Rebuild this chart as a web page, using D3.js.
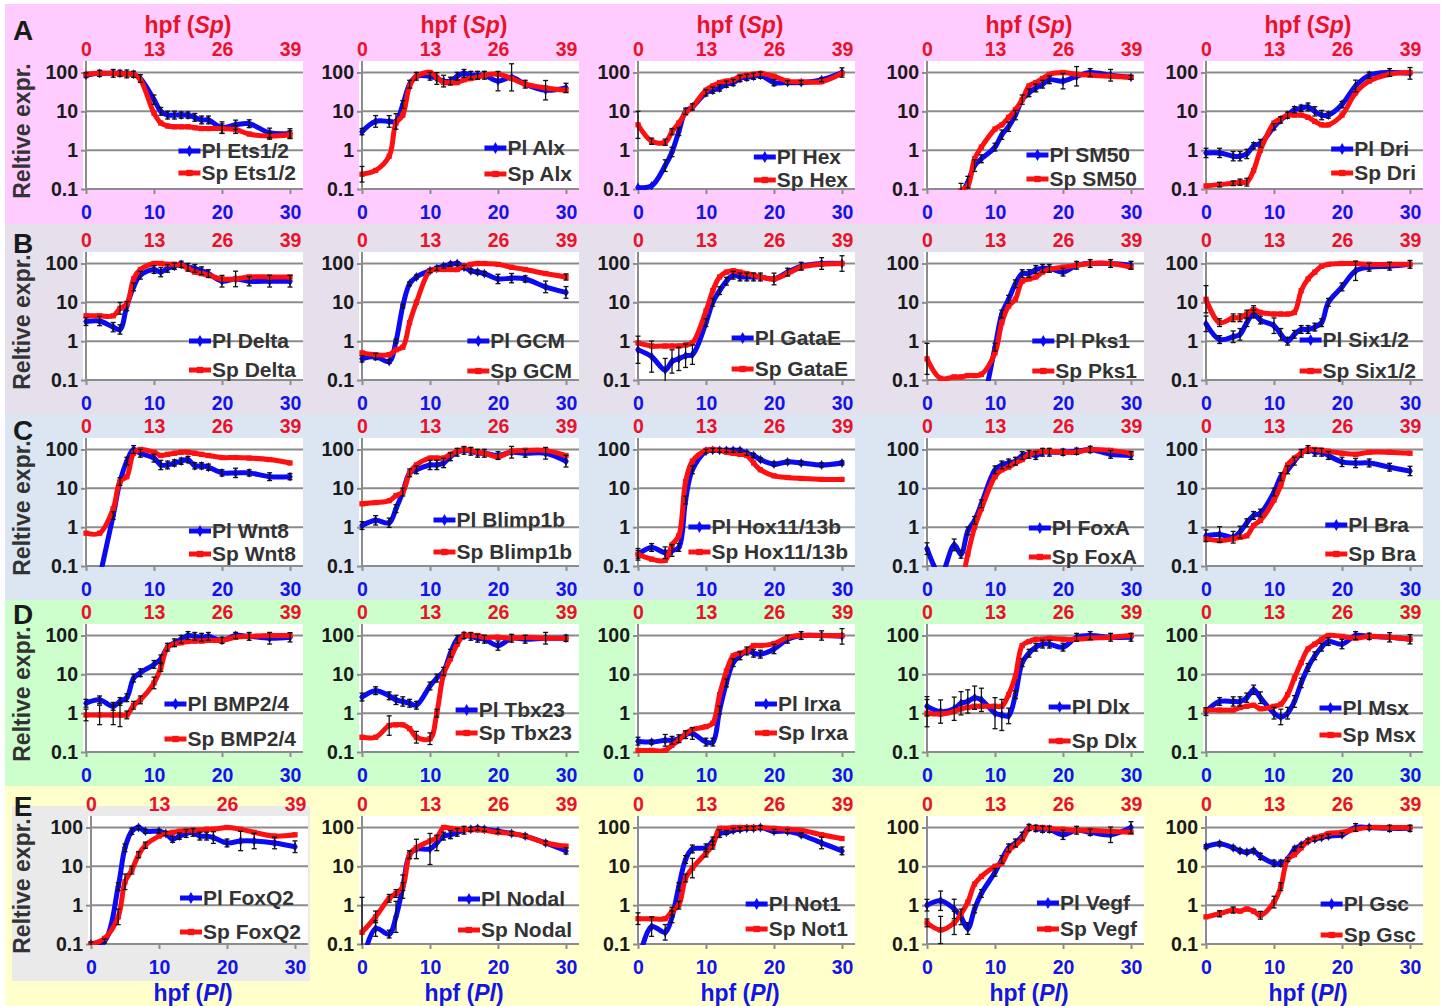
<!DOCTYPE html>
<html>
<head>
<meta charset="utf-8">
<script src="https://cdn.jsdelivr.net/npm/d3@7"></script>
<style>
  body { margin: 0; background: #fff; }
  text { font-family: "Liberation Sans", Arial, sans-serif; font-weight: bold; }
</style>
</head>
<body>
<div id="chart"></div>
<script>
// Sampling times (hpf, Pl) and axis ticks
var times = [0, 2, 4, 5, 6, 7, 8, 10, 11, 12, 13, 14, 15, 16, 17, 18, 20, 22, 24, 27, 30];
var plTicks = [0, 10, 20, 30];
var spTicks = [0, 13, 26, 39];
var yTicks = [0.1, 1, 10, 100];
var rowLetters = ["A", "B", "C", "D", "E"];

var genes = ["Ets1/2", "Alx", "Hex", "SM50", "Dri",
  "Delta", "GCM", "GataE", "Pks1", "Six1/2",
  "Wnt8", "Blimp1b", "Hox11/13b", "FoxA", "Bra",
  "BMP2/4", "Tbx23", "Irxa", "Dlx", "Msx",
  "FoxQ2", "Nodal", "Not1", "Vegf", "Gsc"];

// Relative expression, Pl (blue)
var plValues = [
  [85, 95, 95, 95, 92, 90, 70, 20, 10, 8, 8, 8, 8, 7, 6, 6, 3.8, 4.5, 4.8, 2.8, 2.7],
  [3, 5.5, 5.5, 5.5, 15, 50, 80, 80, 70, 60, 60, 80, 95, 85, 85, 85, 60, 75, 50, 35, 40],
  [0.11, 0.12, 0.4, 0.9, 3, 10, 13, 30, 35, 40, 50, 55, 70, 75, 80, 85, 55, 55, 55, 65, 100],
  [0.01, 0.01, 0.03, 0.07, 0.15, 0.4, 0.6, 1.2, 2.5, 4, 8, 20, 30, 40, 50, 65, 60, 80, 100, 85, 75],
  [0.85, 0.85, 0.7, 0.7, 0.8, 1.3, 1.5, 4, 6, 8, 11, 12, 13, 10, 8, 8, 15, 45, 85, 100, 95],
  [3.2, 3.3, 2.3, 2, 8, 25, 50, 70, 60, 75, 85, 95, 80, 75, 65, 55, 35, 40, 35, 35, 35],
  [0.35, 0.4, 0.3, 1, 8, 30, 45, 65, 75, 85, 95, 100, 80, 65, 60, 55, 40, 42, 40, 25, 18],
  [0.6, 0.4, 0.18, 0.3, 0.35, 0.42, 0.45, 3, 10, 20, 35, 50, 45, 45, 45, 45, 40, 60, 85, 100, 100],
  [0.01, 0.01, 0.01, 0.01, 0.01, 0.01, 0.02, 0.7, 5, 12, 30, 55, 55, 70, 75, 75, 60, 90, 100, 100, 90],
  [2.8, 1.1, 1.3, 1.5, 3, 5, 3.5, 2.5, 1.5, 1, 1.5, 2, 2, 2.3, 3, 10, 25, 65, 80, 85, 95],
  [0.001, 0.05, 2, 15, 50, 100, 80, 60, 40, 40, 45, 50, 55, 38, 38, 35, 25, 25, 25, 20, 20],
  [1.1, 1.5, 1.3, 3, 8, 25, 30, 40, 40, 45, 65, 85, 95, 90, 80, 80, 70, 85, 80, 80, 50],
  [0.2, 0.3, 0.22, 0.25, 0.3, 5, 30, 90, 95, 95, 95, 95, 95, 80, 70, 55, 42, 48, 45, 40, 45],
  [0.28, 0.06, 0.35, 0.2, 0.8, 1.5, 4, 30, 40, 45, 50, 70, 75, 70, 85, 85, 85, 90, 100, 75, 70],
  [0.6, 0.65, 0.55, 0.75, 1.3, 2, 2.3, 8, 20, 30, 50, 80, 100, 85, 85, 70, 48, 45, 45, 35, 28],
  [1.8, 2.2, 1.5, 2, 2.5, 8, 11, 18, 25, 50, 65, 80, 100, 95, 90, 95, 75, 100, 95, 85, 90],
  [2.6, 3.8, 2.8, 2.2, 2, 1.8, 1.6, 5, 8, 12, 35, 80, 100, 95, 85, 80, 55, 85, 80, 85, 85],
  [0.19, 0.18, 0.2, 0.2, 0.22, 0.28, 0.3, 0.18, 0.18, 1.2, 6, 20, 30, 40, 35, 33, 45, 80, 100, 100, 95],
  [1.5, 1.1, 1.3, 1.8, 2, 2.5, 2.2, 1, 0.9, 0.85, 3, 20, 35, 50, 60, 60, 50, 90, 100, 90, 90],
  [1.1, 2, 2, 2, 2.5, 4, 2.5, 1, 0.8, 1, 2, 6, 15, 30, 50, 70, 60, 100, 95, 90, 80],
  [0.1, 0.12, 3, 30, 80, 100, 80, 80, 70, 50, 60, 70, 75, 60, 60, 55, 40, 45, 45, 40, 32],
  [0.03, 0.25, 0.18, 0.5, 3, 20, 28, 28, 40, 60, 65, 75, 85, 90, 95, 90, 80, 70, 60, 40, 25],
  [0.03, 0.28, 0.2, 0.5, 3, 15, 28, 30, 45, 70, 75, 85, 90, 95, 95, 100, 80, 80, 65, 40, 25],
  [1, 1.3, 0.8, 0.5, 0.25, 0.8, 2, 7, 15, 30, 40, 60, 100, 95, 90, 90, 65, 85, 75, 65, 100],
  [32, 38, 30, 25, 23, 25, 18, 12, 12, 15, 28, 35, 45, 50, 55, 60, 65, 100, 100, 95, 95]
];

// Relative expression, Sp (red), placed on the Pl time axis
var spValues = [
  [90, 95, 95, 92, 92, 90, 65, 9, 5, 4.2, 4, 4, 4, 3.8, 3.6, 3.6, 3.6, 3.4, 2.6, 2.3, 2.5],
  [0.24, 0.3, 0.7, 5, 8, 45, 80, 100, 75, 55, 55, 55, 65, 70, 75, 85, 90, 70, 50, 40, 35],
  [4.5, 1.7, 1.6, 3, 5, 9, 13, 35, 45, 55, 60, 65, 80, 85, 90, 95, 80, 60, 58, 58, 95],
  [0.01, 0.01, 0.03, 0.09, 0.12, 0.6, 1.2, 3.5, 4.5, 7, 11, 20, 45, 55, 70, 90, 100, 90, 85, 80, 75],
  [0.12, 0.13, 0.14, 0.15, 0.15, 0.3, 1, 5, 6.5, 8, 8, 8, 7, 5.5, 4.5, 4.5, 8, 30, 60, 90, 100],
  [4.5, 4.5, 4.5, 7, 9, 40, 70, 100, 100, 95, 95, 90, 75, 60, 55, 50, 40, 40, 45, 45, 45],
  [0.5, 0.45, 0.45, 0.6, 0.7, 3, 10, 65, 70, 70, 70, 70, 85, 95, 100, 100, 95, 80, 70, 55, 45],
  [0.9, 0.75, 0.75, 0.75, 0.75, 0.8, 0.9, 6, 20, 45, 60, 65, 60, 55, 50, 45, 40, 55, 80, 95, 100],
  [0.35, 0.11, 0.12, 0.12, 0.13, 0.13, 0.14, 0.5, 3, 8, 12, 35, 40, 45, 60, 70, 80, 90, 100, 100, 80],
  [12, 3, 4, 4, 5, 6.5, 5.5, 5, 5, 5, 5.5, 20, 40, 60, 85, 95, 100, 100, 95, 95, 95],
  [0.7, 0.7, 3, 15, 20, 80, 100, 85, 70, 75, 80, 85, 85, 80, 75, 70, 62, 62, 60, 55, 45],
  [4, 4.3, 4.8, 6.5, 8, 25, 40, 60, 60, 60, 75, 90, 100, 95, 85, 80, 65, 90, 95, 95, 70],
  [0.2, 0.15, 0.14, 0.35, 0.6, 15, 50, 95, 100, 95, 85, 80, 75, 70, 45, 30, 21, 19, 18, 17, 17],
  [0.01, 0.01, 0.01, 0.03, 0.2, 1, 3, 20, 30, 35, 45, 55, 75, 85, 90, 90, 85, 85, 100, 95, 80],
  [0.5, 0.45, 0.5, 0.55, 0.6, 1.1, 1.5, 5, 12, 40, 60, 80, 100, 100, 95, 90, 80, 75, 85, 85, 80],
  [0.9, 0.9, 0.9, 0.9, 0.9, 1.6, 2.2, 6, 15, 50, 60, 65, 70, 72, 72, 75, 75, 90, 95, 100, 100],
  [0.24, 0.24, 0.48, 0.5, 0.5, 0.4, 0.24, 0.22, 1, 10, 25, 60, 100, 100, 100, 90, 90, 85, 90, 85, 85],
  [0.11, 0.11, 0.11, 0.15, 0.2, 0.3, 0.38, 0.45, 0.55, 3, 12, 30, 35, 40, 55, 55, 62, 90, 100, 100, 100],
  [1, 0.95, 1.1, 1.3, 1.4, 1.5, 1.5, 1.5, 1.5, 3, 9, 55, 70, 80, 80, 85, 80, 80, 85, 90, 100],
  [1.2, 1.2, 1.2, 1.4, 1.5, 1.6, 1.3, 1.5, 1.7, 3, 8, 20, 45, 60, 80, 100, 95, 85, 95, 90, 80],
  [0.1, 0.14, 0.5, 4, 8, 20, 35, 60, 70, 75, 80, 85, 85, 85, 90, 90, 100, 90, 75, 60, 65],
  [0.2, 0.5, 1.5, 2, 3, 20, 30, 45, 55, 100, 95, 90, 90, 88, 88, 85, 75, 70, 60, 40, 33],
  [0.45, 0.45, 0.45, 0.7, 1, 5, 9, 22, 35, 95, 95, 100, 100, 100, 100, 100, 95, 90, 85, 65, 52],
  [0.35, 0.23, 0.35, 0.6, 1.2, 3.5, 5.5, 10, 12, 25, 35, 50, 95, 100, 100, 95, 90, 85, 85, 80, 75],
  [0.5, 0.6, 0.75, 0.7, 0.8, 0.7, 0.55, 1.2, 3, 15, 20, 30, 45, 55, 60, 70, 75, 90, 100, 100, 100]
];

// Error bar half widths, in decades (log10); 0 = no bar shown
var plErr = [
  [.06, .08, .1, .08, .1, .08, .1, .12, .1, .1, .1, .08, .08, .1, .1, .1, .15, .12, .1, .12, .12],
  [.08, .15, .15, .2, .1, .1, .1, .1, .15, .15, .1, .1, .1, .1, .1, .1, .25, .35, .1, .25, .12],
  [0, 0, .15, .12, .1, .08, .08, .08, .08, .08, .08, .08, .08, .08, .08, .08, .08, .05, .05, .05, .12],
  [0, 0, 0, .3, .15, .15, .1, .1, .12, .12, .12, .12, .1, .1, .1, .1, .2, .25, .1, .15, .05],
  [.12, .12, .12, .12, .12, .08, .1, .08, .08, .08, .08, .08, .1, .12, .12, .08, .08, .15, .08, .1, .15],
  [.1, .12, .12, .12, .12, .1, .1, .1, .12, .1, .08, .08, .1, .1, .1, .1, .15, .2, .12, .15, .15],
  [.08, .08, .05, .05, .05, .05, .05, .05, .05, .05, .05, .05, .05, .05, .05, .05, .12, .12, .08, .15, .15],
  [.35, .4, .3, .3, .3, .3, .25, .1, .1, .1, .1, .1, .1, .1, .1, .1, .15, .1, .1, .15, .2],
  [0, 0, 0, 0, 0, 0, 0, .1, .1, .1, .1, .1, .1, .1, .1, .1, .1, .1, .1, .1, .1],
  [.2, .1, .15, .15, .1, .1, .1, .2, .15, .1, .1, .1, .1, .1, .1, .1, .1, .25, .1, .1, .1],
  [0, 0, .1, .1, .1, .1, .1, .1, .12, .1, .08, .08, .08, .08, .08, .08, .08, .12, .08, .1, .08],
  [.1, .12, .12, .1, .1, .1, .1, .12, .12, .12, .1, .1, .1, .1, .1, .1, .1, .15, .1, .15, .15],
  [.15, .1, .15, .15, .1, .1, .1, .05, .05, .05, .05, .05, .05, .05, .05, .05, .05, .05, .05, .05, .05],
  [.15, .1, .15, .1, .1, .1, .1, .1, .1, .1, .1, .1, .1, .1, .1, .1, .08, .08, .08, .1, .1],
  [.15, .2, .15, .15, .1, .1, .1, .1, .1, .1, .1, .1, .1, .1, .1, .1, .12, .12, .1, .1, .12],
  [.1, .1, .1, .1, .1, .1, .1, .1, .1, .1, .1, .1, .1, .1, .1, .1, .08, .08, .1, .15, .12],
  [.1, .1, .1, .12, .12, .1, .1, .1, .1, .1, .1, .1, .08, .1, .1, .1, .12, .1, .1, .15, .08],
  [.1, .05, .15, .1, .1, .1, .15, .1, .1, .1, .1, .1, .1, .1, .1, .1, .12, .1, .1, .12, .2],
  [.25, .3, .3, .3, .3, .3, .3, .4, .4, .2, .1, .1, .1, .1, .1, .1, .1, .1, .1, .1, .1],
  [.1, .1, .12, .12, .12, .12, .15, .15, .2, .15, .15, .12, .1, .1, .1, .1, .12, .1, .08, .12, .12],
  [.05, .05, .1, .1, .08, .05, .05, .05, .05, .08, .08, .1, .1, .1, .1, .15, .1, .25, .2, .15, .15],
  [0, .2, .1, .4, .3, .1, .25, .4, .2, .1, .1, .1, .1, .05, .05, .05, .05, .05, .05, .05, .08],
  [0, .25, .2, .15, .1, .1, .1, .1, .1, .1, .05, .05, .05, .05, .05, .05, .05, .05, .05, .15, .1],
  [.15, .25, .25, .2, .15, .1, .1, .1, .1, .1, .1, .1, .08, .08, .08, .08, .12, .1, .08, .2, .15],
  [.05, .05, .05, .05, .05, .05, .08, .08, .08, .05, .05, .05, .05, .05, .05, .05, .05, .1, .05, .08, .08]
];

var spErr = [
  [0, 0, 0, 0, 0, 0, 0, 0, 0, 0, 0, 0, 0, 0, 0, 0, .12, .1, 0, .08, .1],
  [.2, 0, 0, 0, 0, 0, 0, 0, 0, 0, 0, 0, 0, 0, 0, 0, 0, 0, 0, 0, 0],
  [.35, .08, .08, .08, 0, 0, 0, 0, 0, 0, 0, 0, 0, 0, 0, 0, 0, 0, 0, 0, 0],
  [0, 0, 0, 0, 0, 0, 0, 0, 0, 0, 0, 0, 0, 0, 0, 0, 0, 0, 0, 0, 0],
  [0, .06, .06, .08, .1, 0, 0, 0, 0, 0, 0, 0, 0, 0, 0, 0, 0, 0, 0, 0, 0],
  [0, 0, 0, .15, 0, 0, 0, 0, 0, 0, 0, 0, 0, 0, 0, 0, 0, 0, 0, 0, 0],
  [0, 0, 0, 0, 0, 0, 0, 0, 0, 0, 0, 0, 0, 0, 0, 0, 0, 0, 0, 0, .08],
  [0, 0, 0, 0, 0, 0, 0, 0, 0, 0, 0, 0, 0, 0, 0, 0, 0, 0, 0, 0, 0],
  [.4, 0, 0, 0, 0, 0, 0, 0, 0, 0, 0, 0, 0, 0, 0, 0, 0, 0, 0, 0, 0],
  [.35, .1, .1, .1, .1, .1, 0, 0, 0, 0, 0, 0, 0, 0, 0, 0, 0, 0, 0, 0, 0],
  [0, 0, 0, 0, 0, 0, 0, 0, 0, 0, 0, 0, 0, 0, 0, 0, 0, 0, 0, 0, 0],
  [0, 0, 0, 0, 0, 0, 0, 0, 0, 0, 0, 0, 0, 0, 0, 0, 0, 0, 0, 0, 0],
  [.1, 0, 0, 0, 0, 0, 0, 0, 0, 0, 0, 0, 0, 0, 0, 0, 0, 0, 0, 0, 0],
  [0, 0, 0, 0, 0, 0, 0, 0, 0, 0, 0, 0, 0, 0, 0, 0, 0, 0, 0, 0, 0],
  [0, 0, 0, 0, 0, 0, 0, 0, 0, 0, 0, 0, 0, 0, 0, 0, 0, 0, 0, 0, 0],
  [.15, .25, .25, .3, .1, .1, .1, .15, .1, 0, 0, 0, 0, 0, 0, 0, 0, 0, 0, 0, 0],
  [0, 0, .25, 0, 0, 0, .15, .15, .1, 0, 0, 0, 0, 0, 0, 0, 0, 0, 0, 0, 0],
  [0, 0, 0, 0, 0, 0, 0, 0, 0, 0, 0, 0, 0, 0, 0, 0, 0, 0, 0, 0, 0],
  [.35, 0, 0, 0, 0, 0, 0, 0, 0, 0, 0, 0, 0, 0, 0, 0, 0, 0, 0, 0, 0],
  [0, 0, 0, 0, 0, 0, 0, 0, 0, 0, 0, 0, 0, 0, 0, 0, 0, 0, 0, 0, 0],
  [0, 0, .2, .2, .1, .08, .08, 0, 0, 0, 0, 0, 0, 0, 0, 0, 0, 0, 0, 0, 0],
  [.9, .15, .1, .1, .1, .1, 0, 0, 0, 0, 0, 0, 0, 0, 0, 0, 0, 0, 0, 0, 0],
  [.15, 0, 0, .1, .1, .1, .25, .1, .1, 0, 0, 0, 0, 0, 0, 0, 0, 0, 0, 0, 0],
  [.1, .35, .3, 0, 0, 0, 0, 0, 0, 0, 0, 0, 0, 0, 0, 0, 0, 0, 0, 0, 0],
  [0, .08, .08, 0, 0, 0, .1, .15, .1, 0, 0, 0, 0, 0, 0, 0, 0, 0, 0, 0, 0]
];

//Layout
var svgWidth = 1443;
var svgHeight = 1006;
var colX = [86, 362, 638, 927, 1206];
var rowBase = [189, 380, 566, 752, 944];
var rowTop = [4, 224, 414, 600, 786];
var rowBottom = [224, 414, 600, 786, 1006];
var rowColors = ["#FFCCFF", "#E6E0EC", "#DCE6F2", "#CCFFCC", "#FFFFCC"];
var letterY = [30, 243, 430, 614, 806];
var plotW = 204;
var plotH = 116.5;

// legend text offsets (Pl, Sp) from the 0.1 line
var legendDy = [
  [-38, -16], [-41, -15], [-32, -9], [-34, -10], [-40, -16],
  [-39, -10], [-39, -9], [-42, -11], [-39, -9], [-40, -9],
  [-35, -12], [-46, -14], [-39, -14], [-38, -9], [-41, -12],
  [-48, -13], [-42, -19], [-48, -19], [-45, -11], [-44, -17],
  [-46, -12], [-45, -14], [-40, -15], [-41, -15], [-40, -9]
];

var blue = "#0A0AF5";
var red = "#FF1010";
var blueText = "#1414E6";
var redText = "#E8132B";
var gridColor = "#8C8C8C";

var svg = d3.select("#chart")
  .append("svg")
  .attr("width", svgWidth)
  .attr("height", svgHeight);

// Row backgrounds
svg.selectAll("rect.rowbg")
  .data(rowColors)
  .enter()
  .append("rect")
  .attr("class", "rowbg")
  .attr("x", 5)
  .attr("y", (d, i) => rowTop[i])
  .attr("width", 1435)
  .attr("height", (d, i) => rowBottom[i] - rowTop[i])
  .attr("fill", d => d);

// grey block behind the first E panel
svg.append("rect")
  .attr("x", 12)
  .attr("y", 806)
  .attr("width", 298)
  .attr("height", 175)
  .attr("fill", "#EAEAEA");

// Row letters and y titles
rowLetters.forEach(function(letter, r) {
  svg.append("text")
    .attr("x", 23)
    .attr("y", letterY[r])
    .attr("dy", "0.35em")
    .attr("text-anchor", "middle")
    .attr("font-size", 28)
    .attr("fill", "#1a1a1a")
    .text(letter);

  svg.append("text")
    .attr("transform", `translate(22, ${rowBase[r] - 58}) rotate(-90)`)
    .attr("dy", "0.35em")
    .attr("text-anchor", "middle")
    .attr("font-size", 23)
    .attr("fill", "#333")
    .text("Reltive expr.");
});

var lineGen = d3.line()
  .curve(d3.curveCatmullRom.alpha(0.5));

genes.forEach(function(gene, i) {
  var r = Math.floor(i / 5);
  var c = i % 5;
  var x0 = colX[c] + (r === 4 && c === 0 ? 5 : 0);
  var yB = rowBase[r];

  var xScale = d3.scaleLinear().domain([0, 30]).range([x0, x0 + plotW]);
  var spScale = d3.scaleLinear().domain([0, 39]).range([x0, x0 + plotW]);
  var yScale = d3.scaleLog().domain([0.1, 100]).range([yB, yB - plotH]);

  var g = svg.append("g");

  // plot area
  g.append("rect")
    .attr("x", x0 - 3)
    .attr("y", yB - 128)
    .attr("width", plotW + 16)
    .attr("height", 129)
    .attr("fill", "#fff");

  // gridlines
  g.selectAll("line.grid")
    .data([1, 10, 100])
    .enter()
    .append("line")
    .attr("x1", x0)
    .attr("x2", x0 + plotW + 13)
    .attr("y1", d => yScale(d))
    .attr("y2", d => yScale(d))
    .attr("stroke", gridColor)
    .attr("stroke-width", 2);

  g.append("line")
    .attr("x1", x0).attr("x2", x0 + plotW + 13)
    .attr("y1", yB).attr("y2", yB)
    .attr("stroke", gridColor).attr("stroke-width", 2);
  g.append("line")
    .attr("x1", x0).attr("x2", x0)
    .attr("y1", yB - 128).attr("y2", yB)
    .attr("stroke", gridColor).attr("stroke-width", 2);

  // left axis
  var leftAxis = d3.axisLeft(yScale)
    .tickValues(yTicks)
    .tickFormat(d => d < 1 ? "0.1" : String(d))
    .tickSize(5)
    .tickPadding(3);
  var ly = g.append("g")
    .attr("transform", `translate(${x0}, 0)`)
    .call(leftAxis);
  ly.select(".domain").remove();
  ly.selectAll("line").attr("stroke", gridColor).attr("stroke-width", 2);
  ly.selectAll("text")
    .attr("font-size", 19.5)
    .attr("font-family", "Liberation Sans, Arial, sans-serif")
    .attr("fill", "#1a1a1a");

  // bottom axis (Pl hpf)
  var bottomAxis = d3.axisBottom(xScale).tickValues(plTicks).tickSize(5);
  var bx = g.append("g")
    .attr("transform", `translate(0, ${yB})`)
    .call(bottomAxis);
  bx.select(".domain").remove();
  bx.selectAll("line").attr("stroke", gridColor).attr("stroke-width", 2);
  bx.selectAll("text")
    .attr("y", 23)
    .attr("dy", "0.35em")
    .attr("font-size", 19.5)
    .attr("font-family", "Liberation Sans, Arial, sans-serif")
    .attr("fill", blueText);

  // top axis (Sp hpf)
  var topAxis = d3.axisTop(spScale).tickValues(spTicks).tickSize(0);
  var tx = g.append("g")
    .attr("transform", `translate(0, ${yB})`)
    .call(topAxis);
  tx.select(".domain").remove();
  tx.selectAll("text")
    .attr("y", -140)
    .attr("dy", "0.35em")
    .attr("font-size", 19.5)
    .attr("font-family", "Liberation Sans, Arial, sans-serif")
    .attr("fill", redText);

  // clip for the series
  var clipId = "clip" + i;
  svg.append("clipPath")
    .attr("id", clipId)
    .append("rect")
    .attr("x", x0 - 3)
    .attr("y", yB - 128)
    .attr("width", plotW + 16)
    .attr("height", 129);

  var series = [
    { vals: plValues[i], err: plErr[i], color: blue, shape: d3.symbolDiamond },
    { vals: spValues[i], err: spErr[i], color: red, shape: d3.symbolSquare }
  ];

  var plotG = g.append("g").attr("clip-path", `url(#${clipId})`);

  series.forEach(function(s) {
    var pts = s.vals.map((v, k) => [xScale(times[k]), yScale(v)]);
    plotG.append("path")
      .attr("d", lineGen(pts))
      .attr("fill", "none")
      .attr("stroke", s.color)
      .attr("stroke-width", 5)
      .attr("stroke-linejoin", "round");

    plotG.selectAll(null)
      .data(pts)
      .enter()
      .append("path")
      .attr("transform", d => `translate(${d[0]}, ${d[1]})`)
      .attr("d", d3.symbol().type(s.shape).size(28))
      .attr("fill", s.color);
  });

  // error bars
  series.forEach(function(s) {
    s.vals.forEach(function(v, k) {
      var e = s.err[k];
      if (!e) return;
      var xx = xScale(times[k]);
      var y1 = yScale(v * Math.pow(10, e));
      var y2 = yScale(v * Math.pow(10, -e));
      plotG.append("line")
        .attr("x1", xx).attr("x2", xx)
        .attr("y1", y1).attr("y2", y2)
        .attr("stroke", "#111").attr("stroke-width", 1.3);
      [y1, y2].forEach(function(yy) {
        plotG.append("line")
          .attr("x1", xx - 2.5).attr("x2", xx + 2.5)
          .attr("y1", yy).attr("y2", yy)
          .attr("stroke", "#111").attr("stroke-width", 1.3);
      });
    });
  });

  // legend
  var labels = ["Pl " + gene, "Sp " + gene];
  var legG = g.append("g");
  var texts = labels.map(function(lab, k) {
    return legG.append("text")
      .attr("y", yB + legendDy[i][k])
      .attr("dy", "0.35em")
      .attr("font-size", 21)
      .attr("fill", "#333")
      .text(lab);
  });
  var maxLen = d3.max(texts, t => t.node().getComputedTextLength());
  var lx = x0 + 210 - maxLen;
  texts.forEach(function(t, k) {
    t.attr("x", lx);
    var yy = yB + legendDy[i][k];
    legG.append("line")
      .attr("x1", lx - 23).attr("x2", lx - 1)
      .attr("y1", yy).attr("y2", yy)
      .attr("stroke", series[k].color)
      .attr("stroke-width", 5);
    legG.append("path")
      .attr("transform", `translate(${lx - 12}, ${yy})`)
      .attr("d", d3.symbol().type(series[k].shape).size(40))
      .attr("fill", series[k].color);
  });

  // hpf titles
  if (r === 0) {
    var t1 = svg.append("text")
      .attr("x", x0 + 102)
      .attr("y", 25)
      .attr("dy", "0.35em")
      .attr("text-anchor", "middle")
      .attr("font-size", 23)
      .attr("fill", redText);
    t1.append("tspan").text("hpf (");
    t1.append("tspan").attr("font-style", "italic").text("Sp");
    t1.append("tspan").text(")");
  }
  if (r === 4) {
    var t2 = svg.append("text")
      .attr("x", x0 + 102)
      .attr("y", 993)
      .attr("dy", "0.35em")
      .attr("text-anchor", "middle")
      .attr("font-size", 23)
      .attr("fill", blueText);
    t2.append("tspan").text("hpf (");
    t2.append("tspan").attr("font-style", "italic").text("Pl");
    t2.append("tspan").text(")");
  }
});
</script>
</body>
</html>
